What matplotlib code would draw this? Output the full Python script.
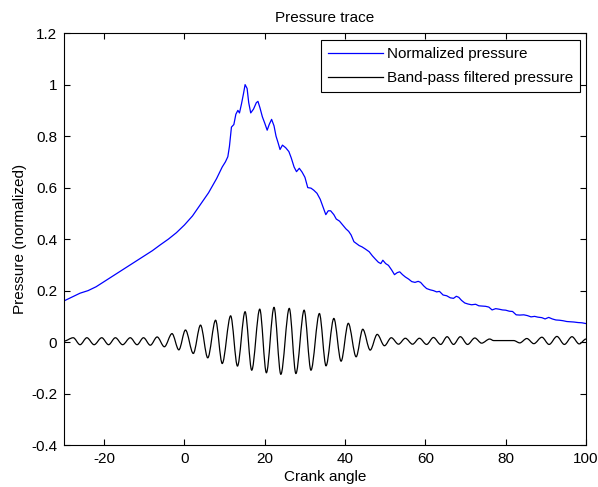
#!/usr/bin/env python3
"""
Pressure trace: normalized pressure and its band-pass filtered version vs crank angle.
"""

import matplotlib
matplotlib.use('Agg')
import matplotlib.pyplot as plt
from matplotlib.path import Path
from matplotlib.patches import PathPatch
from matplotlib.ticker import FuncFormatter

# Normalized pressure
pressure_angle = [
    -30, -28, -26, -24, -22, -20, -18, -16, -14, -12, -10, -8, -6, -4, -2, 0,
    2, 4, 6, 8, 9.4, 10.2, 10.8, 11.2, 11.7, 12.3, 12.8, 13.3, 13.7, 14.2,
    14.7, 15.1, 15.6, 16.0, 16.5, 17.2, 17.9, 18.3, 18.8, 19.4, 20.0, 20.6,
    21.1, 21.7, 22.3, 22.8, 23.3, 23.8, 24.4, 25.2, 26.0, 26.6, 27.3, 27.9,
    28.6, 29.3, 30.0, 30.7, 31.5, 32.2, 33.0, 33.8, 34.5, 35.2, 35.8, 36.4,
    37.2, 37.8, 38.6, 39.4, 40.2, 40.9, 41.5, 42.2, 42.8, 43.5, 44.2, 45.0,
    46.0, 46.8, 47.5, 48.3, 48.9, 49.4, 50.1, 50.8, 51.6, 52.3, 53.0, 53.6,
    54.3, 55.0, 55.8, 56.6, 57.4, 58.2, 58.8, 59.6, 60.3, 61.2, 62.0, 62.8,
    63.5, 64.4, 65.3, 66.2, 67.0, 67.7, 68.3, 69.0, 69.8, 70.6, 71.5, 72.5,
    73.3, 74.2, 75.0, 75.8, 76.6, 77.5, 78.3, 79.2, 80.0, 80.9, 81.7, 82.6,
    83.5, 84.5, 85.4, 86.3, 87.2, 88.0, 89.0, 89.8, 90.7, 91.6, 92.5, 93.4,
    94.3, 95.2, 96.1, 97.0, 98.0, 99.0, 100,
]
pressure_norm = [
    0.16, 0.175, 0.19, 0.20, 0.215, 0.235, 0.255, 0.275, 0.295, 0.315, 0.335,
    0.355, 0.378, 0.40, 0.425, 0.455, 0.49, 0.535, 0.58, 0.635, 0.68, 0.70,
    0.72, 0.76, 0.835, 0.845, 0.885, 0.90, 0.89, 0.925, 0.965, 1.0, 0.985,
    0.93, 0.89, 0.905, 0.93, 0.935, 0.91, 0.875, 0.85, 0.823, 0.845, 0.865,
    0.84, 0.80, 0.775, 0.748, 0.765, 0.755, 0.74, 0.715, 0.68, 0.662, 0.675,
    0.66, 0.64, 0.60, 0.598, 0.59, 0.578, 0.555, 0.525, 0.495, 0.51, 0.51,
    0.495, 0.478, 0.47, 0.455, 0.44, 0.43, 0.416, 0.39, 0.383, 0.375, 0.37,
    0.362, 0.351, 0.335, 0.323, 0.31, 0.305, 0.318, 0.305, 0.298, 0.28,
    0.262, 0.27, 0.273, 0.262, 0.253, 0.245, 0.235, 0.232, 0.236, 0.232,
    0.218, 0.208, 0.203, 0.20, 0.195, 0.197, 0.183, 0.18, 0.172, 0.17, 0.178,
    0.174, 0.162, 0.152, 0.148, 0.145, 0.147, 0.141, 0.14, 0.139, 0.136,
    0.125, 0.13, 0.128, 0.125, 0.124, 0.12, 0.119, 0.106, 0.105, 0.106,
    0.103, 0.098, 0.10, 0.097, 0.095, 0.09, 0.096, 0.09, 0.086, 0.085, 0.083,
    0.08, 0.079, 0.078, 0.076, 0.075, 0.072,
]

# Band-pass filtered pressure: peaks and troughs
filtered_angle = [
    -30, -27.7, -26.0, -24.3, -22.5, -20.6, -18.9, -17.2, -15.4, -13.5, -11.8,
    -10.2, -8.5, -6.8, -5.0, -3.1, -1.4, 0.25, 2.2, 4.0, 5.8, 7.75, 9.4, 11.5,
    13.2, 15.1, 16.75, 18.75, 20.4, 22.3, 24.0, 26.1, 27.75, 29.8, 31.5, 33.6,
    35.25, 37.2, 39.0, 40.8, 42.75, 44.4, 46.25, 48.0, 49.8, 51.5, 53.3, 55.0,
    56.8, 58.5, 60.3, 62.0, 63.8, 65.4, 67.0, 68.7, 70.5, 72.3, 74.0, 76.0,
    77.0, 82.0, 83.5, 85.25, 87.0, 89.0, 90.8, 92.75, 94.6, 96.5, 98.3, 100,
]
filtered_value = [
    0.004, 0.017, -0.01, 0.017, -0.01, 0.017, -0.01, 0.017, -0.01, 0.017,
    -0.01, 0.017, -0.012, 0.02, -0.018, 0.033, -0.03, 0.047, -0.044, 0.066,
    -0.061, 0.085, -0.083, 0.102, -0.093, 0.118, -0.109, 0.128, -0.119, 0.135,
    -0.125, 0.131, -0.122, 0.124, -0.109, 0.111, -0.092, 0.092, -0.074, 0.073,
    -0.057, 0.05, -0.031, 0.03, -0.014, 0.017, -0.008, 0.015, -0.008, 0.015,
    -0.009, 0.018, -0.009, 0.021, -0.009, 0.021, -0.009, 0.016, -0.004, 0.012,
    0.006, 0.006, -0.003, 0.014, -0.006, 0.019, -0.009, 0.022, -0.009, 0.021,
    -0.007, 0.012,
]

x_ticks = [-20, 0, 20, 40, 60, 80, 100]
y_ticks = [-0.4, -0.2, 0, 0.2, 0.4, 0.6, 0.8, 1, 1.2]

plt.rcParams['font.family'] = ['Liberation Sans', 'DejaVu Sans']
plt.rcParams['font.size'] = 11
plt.rcParams['axes.unicode_minus'] = False

fig = plt.figure(figsize=(5.98, 4.87), dpi=100)
ax = fig.add_axes([0.107, 0.086, 0.873, 0.846])

ax.plot(pressure_angle, pressure_norm, color='#0000ff', lw=0.9,
        label='Normalized pressure')

# filtered signal: smooth cubic segments between the extrema (flat tangents)
verts = [(filtered_angle[0], filtered_value[0])]
codes = [Path.MOVETO]
for i in range(1, len(filtered_angle)):
    x0, y0 = filtered_angle[i - 1], filtered_value[i - 1]
    x1, y1 = filtered_angle[i], filtered_value[i]
    dx = (x1 - x0) / 3
    verts += [(x0 + dx, y0), (x1 - dx, y1), (x1, y1)]
    codes += [Path.CURVE4] * 3
ax.add_patch(PathPatch(Path(verts, codes), facecolor='none',
                       edgecolor='black', lw=0.9))
# proxy line for the legend
ax.plot([], [], color='black', lw=0.9, label='Band-pass filtered pressure')

ax.set_xlim(-30, 100)
ax.set_ylim(-0.4, 1.2)
ax.set_xticks(x_ticks)
ax.set_yticks(y_ticks)
ax.yaxis.set_major_formatter(FuncFormatter(lambda v, p: '%g' % round(v, 2)))
ax.tick_params(direction='in', length=4, width=0.8, top=True, right=True,
               labelsize=11, pad=5)
for s in ax.spines.values():
    s.set_linewidth(0.8)

ax.set_title('Pressure trace', fontsize=11, pad=8)
ax.set_xlabel('Crank angle', fontsize=11, labelpad=3)
ax.set_ylabel('Pressure (normalized)', fontsize=11, labelpad=3)

leg = ax.legend(loc='upper right', bbox_to_anchor=(0.989, 0.983),
                borderaxespad=0, fancybox=False, framealpha=1,
                edgecolor='black', handlelength=3.6, handletextpad=0.3,
                labelspacing=0.65, borderpad=0.45, fontsize=11)
leg.get_frame().set_linewidth(0.8)

plt.savefig('out.png', dpi=100, facecolor='white')
plt.close()
